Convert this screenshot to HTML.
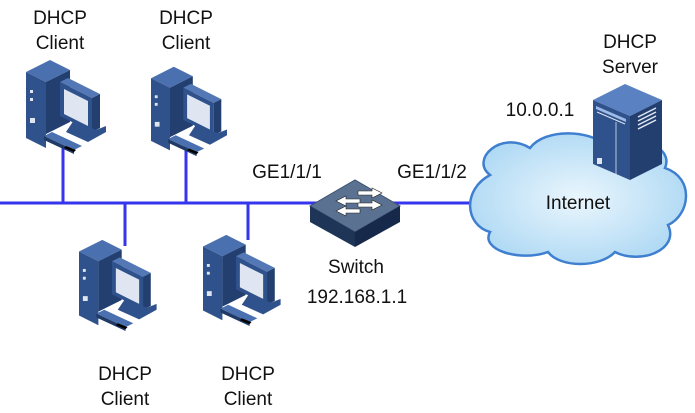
<!DOCTYPE html>
<html><head><style>
html,body{margin:0;padding:0;background:#fff;}
svg{display:block;}
text{font-family:"Liberation Sans",sans-serif;font-size:19px;fill:#111;}
</style></head><body>
<svg width="695" height="413" viewBox="0 0 695 413" xmlns="http://www.w3.org/2000/svg">
<defs>
<g id="pc">
  <polygon points="0,16 24,4 44,14 20,26" fill="#4a70b0"/>
  <polygon points="0,16 20,26 20,92 0,82" fill="#2f528c"/>
  <polygon points="20,26 44,14 44,66 20,78" fill="#223f70"/>
  <rect x="4" y="34" width="3" height="3" fill="#dfe6f0"/>
  <rect x="4" y="42" width="3" height="3" fill="#dfe6f0"/>
  <rect x="4" y="62" width="5" height="5" fill="#dfe6f0"/>
  <polygon points="34,26 42,22 74,38 66,42" fill="#5478b5"/>
  <polygon points="34,26 66,42 66,76 34,60" fill="#2f528c"/>
  <polygon points="66,42 74,38 74,72 66,76" fill="#223f70"/>
  <polygon points="38,33 62,45 62,70 38,58" fill="#dfe6f2"/>
  <polygon points="48,64 70,74 80,70 80,76 62,86 40,76" fill="#2f528c"/>
  <polygon points="18,80 26,76 56,90 48,94" fill="#4a70b0"/>
  <polygon points="18,80 48,94 48,98 18,84" fill="#1f3a66"/>
  <polygon points="40,90 50,94 48,96 38,92" fill="#000"/>
</g>
<radialGradient id="cg" cx="0.5" cy="0.5" r="0.6">
  <stop offset="0" stop-color="#eaf6fd"/><stop offset="1" stop-color="#a9d6f3"/>
</radialGradient>
</defs>

<!-- lines -->
<g stroke="#3535ee" stroke-width="3" fill="none">
  <line x1="0" y1="203" x2="472" y2="203"/>
  <line x1="63" y1="148" x2="63" y2="203"/>
  <line x1="186" y1="143" x2="186" y2="203"/>
  <line x1="125" y1="203" x2="125" y2="246"/>
  <line x1="248" y1="203" x2="248" y2="240"/>
</g>

<!-- PCs -->
<use href="#pc" transform="translate(26,56)"/>
<use href="#pc" transform="translate(151,63) scale(0.95)"/>
<use href="#pc" transform="translate(79,236) scale(0.97)"/>
<use href="#pc" transform="translate(203,231) scale(0.97)"/>

<!-- switch -->
<polygon points="310,206 355,180 400,206 355,232" fill="#5a7191" stroke="#3b5270" stroke-width="1"/>
<polygon points="310,206 355,232 355,247 310,222" fill="#1e3558"/>
<polygon points="355,232 400,206 400,222 355,247" fill="#17294a"/>
<g fill="#fff" stroke="#222" stroke-width="0.6">
  <polygon points="336,201 346,196 346,199 360,199 360,203 346,203 346,206"/>
  <polygon points="382,193 372,188 372,191 358,191 358,195 372,195 372,198"/>
  <polygon points="336,211 346,206 346,209 360,209 360,213 346,213 346,216"/>
  <polygon points="382,205 372,200 372,203 358,203 358,207 372,207 372,210"/>
</g>

<!-- cloud -->
<path d="M490,175 C470,160 500,130 530,148 C545,128 590,130 605,145 C630,130 675,145 665,168 C695,178 690,215 668,225 C680,250 640,265 615,252 C600,268 560,268 548,252 C520,262 480,250 490,232 C465,225 462,190 490,175 Z" fill="url(#cg)" stroke="#3f7fd0" stroke-width="2.5"/>

<!-- server -->
<polygon points="593,100 625,84 662,100 630,116" fill="#5a82c2"/>
<polygon points="593,100 630,116 630,180 593,164" fill="#2f528c"/>
<polygon points="630,116 662,100 662,164 630,180" fill="#223f70"/>
<polygon points="596,106 626,119 626,122 596,109" fill="#9dbbe6"/>
<line x1="597" y1="112" x2="625" y2="124" stroke="#dfe6f0" stroke-width="1"/>
<line x1="616" y1="122" x2="616" y2="175" stroke="#dfe6f0" stroke-width="0.8"/>
<rect x="597" y="158" width="5" height="6" fill="#dfe6f0"/>
<g stroke="#dfe6f0" stroke-width="1.5">
  <line x1="638" y1="117" x2="656" y2="108"/>
  <line x1="638" y1="121" x2="656" y2="112"/>
  <line x1="638" y1="125" x2="656" y2="116"/>
  <line x1="638" y1="129" x2="656" y2="120"/>
</g>

<!-- labels -->
<g text-anchor="middle">
  <text x="60" y="24">DHCP</text><text x="60" y="49">Client</text>
  <text x="186" y="24">DHCP</text><text x="186" y="49">Client</text>
  <text x="125" y="380">DHCP</text><text x="125" y="405">Client</text>
  <text x="248" y="380">DHCP</text><text x="248" y="405">Client</text>
  <text x="630" y="48">DHCP</text><text x="630" y="73">Server</text>
  <text x="287" y="178">GE1/1/1</text>
  <text x="432" y="178">GE1/1/2</text>
  <text x="356" y="273">Switch</text>
  <text x="357" y="303">192.168.1.1</text>
  <text x="540" y="116">10.0.0.1</text>
  <text x="578" y="209">Internet</text>
</g>
</svg>
</body></html>
